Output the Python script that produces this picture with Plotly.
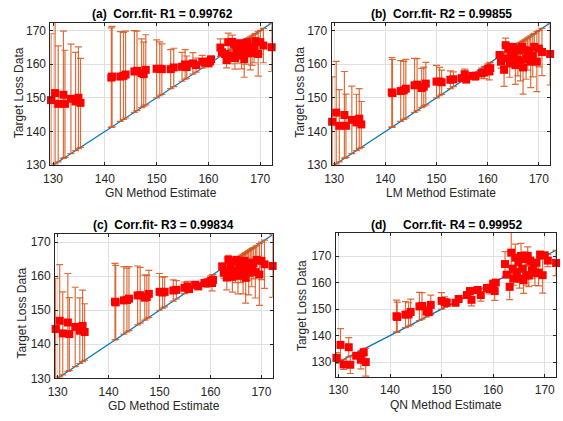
import plotly.graph_objects as go

# shared x positions (method estimates)
x_vals = [129.6, 130.4, 131.0, 132.0, 132.3, 133.45, 134.35, 134.9, 135.3,
          141.25, 141.4, 143.0, 143.6, 144.0, 145.7, 146.2, 147.1, 147.5, 147.9, 150.0, 150.6, 151.0,
          152.7, 153.3, 154.9, 155.5, 155.8, 157.0, 157.6, 158.8, 159.3, 160.0, 160.3, 160.5,
          162.3, 162.6, 163.2, 163.5, 163.8, 164.0, 164.3, 164.6, 164.9, 165.1, 165.4, 165.7, 165.9, 166.2,
          166.4, 166.7, 166.9, 167.2, 167.5, 167.8, 168.1, 168.4, 168.8, 169.1, 169.6, 170.0, 170.6, 172.2]

y_gn = [149.3, 151.4, 148.2, 150.9, 148.2, 149.7, 148.9, 150.0, 148.5,
        156.0, 156.3, 156.3, 156.5, 156.9, 157.8, 158.0, 157.3, 157.0, 158.3, 158.6, 158.6, 158.5,
        158.5, 159.0, 159.2, 159.9, 159.1, 160.2, 159.7, 160.7, 160.5, 160.2, 160.8, 161.4,
        164.9, 163.5, 163.0, 161.2, 166.5, 162.5, 162.2, 166.6, 166.0, 161.8, 164.1, 163.0, 164.6, 166.2,
        162.5, 165.5, 161.5, 163.6, 166.5, 165.0, 163.2, 164.0, 164.6, 166.8, 163.0, 166.5, 165.5, 165.0]

y_lm = [142.9, 145.6, 141.7, 144.9, 141.7, 143.45, 142.7, 143.8, 142.1,
        151.6, 151.4, 152.0, 152.2, 152.7, 153.7, 153.9, 152.9, 153.3, 154.2, 154.8, 154.8, 154.6,
        155.35, 155.5, 155.8, 157.0, 155.4, 156.5, 156.4, 157.3, 157.5, 158.5, 157.8, 158.8,
        162.7, 160.7, 158.3, 165.6, 161.7, 164.6, 160.2, 163.6, 165.1, 162.2, 159.7, 164.1, 161.2, 164.5,
        160.7, 165.1, 159.0, 164.1, 161.5, 163.0, 164.0, 160.7, 162.5, 165.1, 160.7, 164.6, 163.6, 163.0]

y_gd = [144.5, 146.9, 143.2, 146.4, 143.0, 145.1, 144.0, 145.4, 143.6,
        152.5, 152.3, 152.9, 153.0, 153.4, 154.35, 154.4, 153.7, 153.9, 154.8, 155.4, 155.2, 155.4,
        155.8, 156.0, 156.6, 157.0, 156.2, 157.5, 157.0, 158.0, 158.0, 158.5, 158.0, 158.9,
        162.9, 161.0, 159.6, 164.8, 161.5, 163.4, 159.8, 164.3, 161.5, 164.8, 160.1, 163.4, 162.0, 164.3,
        160.6, 164.5, 159.5, 163.0, 161.0, 164.0, 162.5, 163.8, 161.2, 164.8, 160.5, 164.5, 163.5, 163.0]

y_qn = [131.6, 136.5, 129.1, 135.6, 129.0, 132.4, 130.9, 133.7, 130.0,
        147.3, 147.0, 147.9, 148.0, 148.9, 151.0, 151.2, 149.1, 148.9, 151.6, 153.1, 152.6, 152.4,
        152.4, 153.8, 155.3, 156.8, 153.5, 157.2, 155.3, 158.0, 157.5, 159.6, 156.8, 160.0,
        167.0, 163.0, 158.4, 171.3, 165.2, 161.5, 169.4, 164.0, 167.7, 161.5, 170.1, 165.2, 160.9, 168.9,
        162.7, 170.1, 162.7, 168.3, 164.5, 166.0, 163.5, 167.5, 163.8, 170.5, 162.8, 170.3, 168.3, 167.4]

tick_vals = [130, 140, 150, 160, 170]
titles = ["(a)\u00a0\u00a0Corr.fit- R1 = 0.99762", "(b)\u00a0\u00a0Corr.fit- R2 = 0.99855",
          "(c)\u00a0\u00a0Corr.fit- R3 = 0.99834", "(d)\u00a0\u00a0\u00a0\u00a0\u00a0Corr.fit- R4 = 0.99952"]
x_titles = ["GN Method Estimate", "LM Method Estimate", "GD Method Estimate", "QN Method Estimate"]
y_title = "Target Loss Data"
series = [y_gn, y_lm, y_gd, y_qn]

W, H = 563, 421
def px(v): return v / W
def py(v): return 1 - v / H

# panel boxes in pixels: left, right, top, bottom
boxes = [(44, 268, 23, 168), (328.7, 550, 23, 168), (48.7, 269, 238.3, 384.7), (333, 556, 237, 383.3)]
yranges = [[130, 172.3], [130, 172.3], [130, 172.3], [124.4, 178.7]]
xrange_ = [129.5, 172.2]
title_pos = [(157, 14), (440, 14), (158, 229), (445, 229)]
xlab_pos = [(156, 196), (439, 196), (159, 413), (445, 412)]
ylab_pos = [(13, 94), (297, 94), (15, 318), (299, 311)]

FONT = "Liberation Sans, Arial, sans-serif"
fig = go.Figure()
lo, hi = min(x_vals), max(x_vals)
for i, ys in enumerate(series):
    xa = "x" if i == 0 else f"x{i+1}"
    ya = "y" if i == 0 else f"y{i+1}"
    err = [abs(b - a) for a, b in zip(x_vals, ys)]
    fig.add_trace(go.Scatter(x=[lo, hi], y=[lo, hi], mode="lines",
                             line=dict(color="#0072BD", width=1.2), xaxis=xa, yaxis=ya, showlegend=False))
    fig.add_trace(go.Scatter(x=x_vals, y=ys, mode="markers",
                             marker=dict(symbol="square", size=8, color="#FF0000", line=dict(width=0)),
                             error_y=dict(type="data", array=err, symmetric=True,
                                          color="rgba(217,83,25,0.85)", thickness=1.2, width=3.5),
                             xaxis=xa, yaxis=ya, showlegend=False, cliponaxis=False))
    l, r, t, b = boxes[i]
    axcommon = dict(showgrid=True, gridcolor="#e0e0e0", gridwidth=1, zeroline=False,
                    showline=True, linecolor="#262626", linewidth=1, mirror="ticks",
                    ticks="inside", ticklen=3, tickcolor="#262626",
                    tickfont=dict(family=FONT, size=12, color="#262626"),
                    tickvals=tick_vals)
    xkey = "xaxis" if i == 0 else f"xaxis{i+1}"
    ykey = "yaxis" if i == 0 else f"yaxis{i+1}"
    fig.update_layout({
        xkey: dict(domain=[px(l), px(r)], range=xrange_, anchor=ya, ticklabelstandoff=2, **axcommon),
        ykey: dict(domain=[py(b), py(t)], range=yranges[i], anchor=xa, ticklabelstandoff=1, **axcommon),
    })
    fig.add_annotation(x=px(title_pos[i][0]), y=py(title_pos[i][1]), xref="paper", yref="paper",
                       text=f"<b>{titles[i]}</b>", showarrow=False, xanchor="center", yanchor="middle",
                       font=dict(family=FONT, size=12, color="#000000"))
    fig.add_annotation(x=px(xlab_pos[i][0]), y=py(xlab_pos[i][1]), xref="paper", yref="paper",
                       text=x_titles[i], showarrow=False, xanchor="center", yanchor="middle",
                       font=dict(family=FONT, size=12, color="#262626"))
    fig.add_annotation(x=px(ylab_pos[i][0]), y=py(ylab_pos[i][1]), xref="paper", yref="paper",
                       text=y_title, showarrow=False, xanchor="center", yanchor="middle", textangle=-90,
                       font=dict(family=FONT, size=12, color="#262626"))

fig.update_layout(width=W, height=H, margin=dict(l=0, r=0, t=0, b=0),
                  paper_bgcolor="white", plot_bgcolor="white", showlegend=False)
fig.write_html("out.html")
